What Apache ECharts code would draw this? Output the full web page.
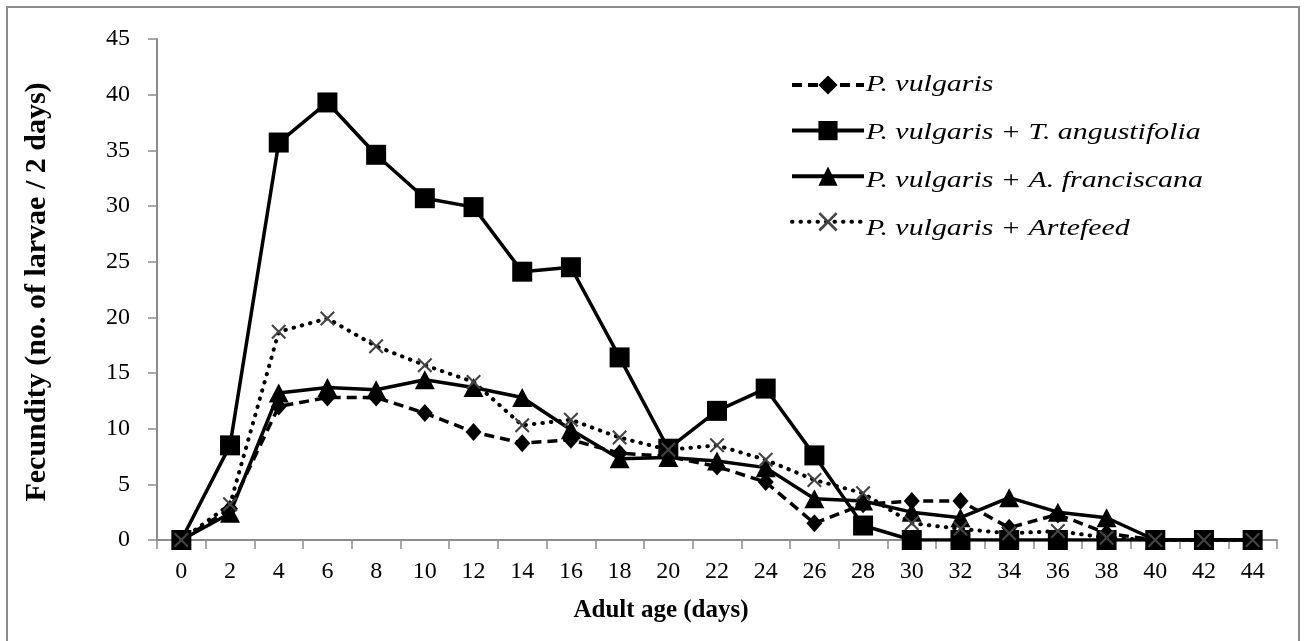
<!DOCTYPE html>
<html>
<head>
<meta charset="utf-8">
<title>Fecundity by adult age</title>
<script src="https://cdn.jsdelivr.net/npm/echarts@6/dist/echarts.min.js"></script>
<style>
  html, body { margin: 0; padding: 0; background: #fff; }
  #chart { width: 1304px; height: 641px; }
</style>
</head>
<body>
<div id="chart"></div>
<script>
// Adult age (days), one category every 2 days
const ageDays = ['0','2','4','6','8','10','12','14','16','18','20','22','24','26','28','30','32','34','36','38','40','42','44'];

// Fecundity (no. of larvae / 2 days) for each diet
const pVulgaris =      [0, 2.8, 12.0, 12.8, 12.8, 11.4, 9.7, 8.7, 9.0, 7.8, 7.5, 6.6, 5.2, 1.5, 3.2, 3.5, 3.5, 1.1, 2.3, 0.6, 0, 0, 0];
const pvTangustifolia =[0, 8.5, 35.7, 39.3, 34.6, 30.7, 29.9, 24.1, 24.5, 16.4, 8.2, 11.6, 13.6, 7.6, 1.3, 0, 0, 0, 0, 0, 0, 0, 0];
const pvAfranciscana = [0, 2.4, 13.2, 13.7, 13.5, 14.4, 13.7, 12.8, 9.9, 7.3, 7.4, 7.1, 6.5, 3.7, 3.5, 2.5, 2.0, 3.8, 2.5, 2.0, 0, 0, 0];
const pvArtefeed =     [0, 3.2, 18.7, 19.9, 17.4, 15.7, 14.2, 10.3, 10.8, 9.2, 8.1, 8.5, 7.2, 5.4, 4.2, 1.5, 1.0, 0.6, 0.8, 0.2, 0, 0, 0];

const seriesNames = [
  'P. vulgaris',
  'P. vulgaris + T. angustifolia',
  'P. vulgaris + A. franciscana',
  'P. vulgaris + Artefeed'
];

const yTicks = { min: 0, max: 45, interval: 5 };

const serif = '"Liberation Serif", "Times New Roman", serif';
const xMark = 'path://M2,0 L10,8 L18,0 L20,2 L12,10 L20,18 L18,20 L10,12 L2,20 L0,18 L8,10 L0,2 Z';

// legend rows: icons come from the legend component, names are wide italic text
const legendTop = 73;
const legendIconH = 24;
const legendRowStep = 48;
const legendText = seriesNames.map((name, i) => ({
  type: 'text',
  x: 866,
  y: legendTop + legendIconH / 2 + i * legendRowStep,
  scaleX: 1.3,
  style: {
    text: name,
    font: 'italic 23px ' + serif,
    fill: '#000',
    textAlign: 'left',
    textVerticalAlign: 'middle'
  },
  silent: true
}));

const chart = echarts.init(document.getElementById('chart'), null, { renderer: 'canvas' });

const option = {
  backgroundColor: '#fff',
  animation: false,
  grid: { left: 157, right: 27, top: 39, bottom: 101 },
  legend: {
    orient: 'vertical',
    left: 790,
    top: legendTop,
    padding: 0,
    itemWidth: 72,
    itemHeight: legendIconH,
    itemGap: legendRowStep - legendIconH,
    lineStyle: { width: 4 },
    formatter: () => '',
    textStyle: { fontSize: 1 },
    data: seriesNames
  },
  xAxis: {
    type: 'category',
    data: ageDays,
    boundaryGap: true,
    axisLine: { lineStyle: { color: '#8c8c8c', width: 2 } },
    axisTick: { show: true, alignWithLabel: false, length: 9, lineStyle: { color: '#8c8c8c', width: 1.5 } },
    axisLabel: { margin: 20, fontFamily: serif, fontSize: 24, color: '#000' },
    splitLine: { show: false }
  },
  yAxis: {
    type: 'value',
    min: yTicks.min,
    max: yTicks.max,
    interval: yTicks.interval,
    axisLine: { show: true, lineStyle: { color: '#8c8c8c', width: 2 } },
    axisTick: { show: true, length: 9, lineStyle: { color: '#8c8c8c', width: 1.5 } },
    axisLabel: { margin: 27, fontFamily: serif, fontSize: 24, color: '#000' },
    splitLine: { show: false }
  },
  graphic: [
    {
      type: 'rect',
      shape: { x: 7, y: 7, width: 1292, height: 640 },
      style: { fill: 'none', stroke: '#8c8c8c', lineWidth: 2 },
      silent: true
    },
    {
      type: 'text',
      x: 661, y: 611,
      style: {
        text: 'Adult age (days)',
        font: 'bold 25px ' + serif,
        fill: '#000',
        textAlign: 'center',
        textVerticalAlign: 'middle'
      }
    },
    {
      type: 'text',
      x: 37, y: 292,
      rotation: Math.PI / 2,
      style: {
        text: 'Fecundity (no. of larvae / 2 days)',
        font: 'bold 30px ' + serif,
        fill: '#000',
        textAlign: 'center',
        textVerticalAlign: 'middle'
      }
    }
  ].concat(legendText),
  series: [
    {
      name: seriesNames[0],
      type: 'line',
      data: pVulgaris,
      symbol: 'diamond',
      symbolSize: [16, 18],
      itemStyle: { color: '#000' },
      lineStyle: { color: '#000', width: 3.5, type: [10, 6] },
      z: 2
    },
    {
      name: seriesNames[1],
      type: 'line',
      data: pvTangustifolia,
      symbol: 'rect',
      symbolSize: 20,
      itemStyle: { color: '#000' },
      lineStyle: { color: '#000', width: 3.5, type: 'solid' },
      z: 3
    },
    {
      name: seriesNames[2],
      type: 'line',
      data: pvAfranciscana,
      symbol: 'triangle',
      symbolSize: [20, 19],
      itemStyle: { color: '#000' },
      lineStyle: { color: '#000', width: 3.5, type: 'solid' },
      z: 4
    },
    {
      name: seriesNames[3],
      type: 'line',
      data: pvArtefeed,
      symbol: xMark,
      symbolSize: 15,
      itemStyle: { color: '#444' },
      lineStyle: { color: '#000', width: 4, type: [0.5, 8], cap: 'round' },
      z: 5
    }
  ]
};

chart.setOption(option);
</script>
</body>
</html>
